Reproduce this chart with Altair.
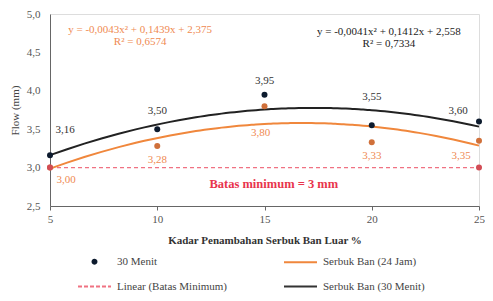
import altair as alt
import pandas as pd

# ---------------- data ----------------
x_vals = [5, 10, 15, 20, 25]
flow_30 = [3.16, 3.50, 3.95, 3.55, 3.60]
flow_24 = [3.00, 3.28, 3.80, 3.33, 3.35]
lbl_30 = ["3,16", "3,50", "3,95", "3,55", "3,60"]
lbl_24 = ["3,00", "3,28", "3,80", "3,33", "3,35"]
batas_x = [5, 25]
batas_y = [3.0, 3.0]
legend_names = ["30 Menit", "Linear (Batas Minimum)", "Serbuk Ban (24 Jam)", "Serbuk Ban (30 Menit)"]
eq_24 = ["y = -0,0043x² + 0,1439x + 2,375", "R² = 0,6574"]
eq_30 = ["y = -0,0041x² + 0,1412x + 2,558", "R² = 0,7334"]
batas_text = "Batas minimum  = 3 mm"
x_ticks = [5, 10, 15, 20, 25]
y_ticks = [2.5, 3.0, 3.5, 4.0, 4.5, 5.0]

# annotation anchors (data units)
ann_24_x, ann_24_y = [9.2, 9.2], [4.79, 4.64]
ann_30_x, ann_30_y = [20.8, 20.8], [4.76, 4.61]
batas_ann_x = [15.2]

# ---------------- styles ----------------
FONT = "Liberation Serif"
NAVY = "#0d1b2e"
BLACK = "#222222"
ORANGE = "#f0873c"
ORANGE_DOT = "#d0703a"
ORANGE_TXT = "#ef8a52"
PINK = "#f07282"
RED_DOT = "#d24c55"
RED_TXT = "#e8344c"

df30 = pd.DataFrame({"x": x_vals, "y": flow_30, "label": lbl_30})
df24 = pd.DataFrame({"x": x_vals, "y": flow_24, "label": lbl_24})
dfb = pd.DataFrame({"x": batas_x, "y": batas_y})
dfl = pd.DataFrame({"x": [x_vals[0]] * 4, "y": [batas_y[0]] * 4, "legend": legend_names})
df_eq24 = pd.DataFrame({"x": ann_24_x, "y": ann_24_y, "label": eq_24})
df_eq30 = pd.DataFrame({"x": ann_30_x, "y": ann_30_y, "label": eq_30})
df_bt = pd.DataFrame({"x": batas_ann_x, "y": [batas_y[0]], "label": [batas_text]})

xenc = alt.X(
    "x:Q",
    scale=alt.Scale(domain=[5, 25], nice=False, zero=False),
    axis=alt.Axis(
        values=x_ticks, title="Kadar Penambahan Serbuk Ban Luar %", grid=False,
        labelFont=FONT, labelFontSize=11, labelColor="#555", labelPadding=3,
        labelOverlap=False, labelFlush=False,
        tickSize=4, tickColor="#666", domainColor="#666",
        titleFont=FONT, titleFontSize=11, titleFontWeight="bold", titleColor="#333",
        titlePadding=10,
    ),
)
yenc = alt.Y(
    "y:Q",
    scale=alt.Scale(domain=[2.5, 5.0], nice=False, zero=False),
    axis=alt.Axis(
        values=y_ticks, title="Flow (mm)", grid=False,
        labelExpr="replace(format(datum.value, '.1f'), '.', ',')",
        labelFont=FONT, labelFontSize=11, labelColor="#555", labelPadding=10,
        labelOverlap=False, labelBound=False,
        ticks=False, domainColor="#666",
        titleFont=FONT, titleFontSize=11, titleFontWeight="normal", titleColor="#444",
        titlePadding=6,
    ),
)

# regression curves (computed by Vega-Lite)
reg24 = alt.Chart(df24).transform_regression("x", "y", method="poly", order=2).mark_line(
    color=ORANGE, strokeWidth=2).encode(x=xenc, y=yenc)
reg30 = alt.Chart(df30).transform_regression("x", "y", method="poly", order=2).mark_line(
    color=BLACK, strokeWidth=2).encode(x=xenc, y=yenc)

batas_line = alt.Chart(dfb).mark_line(color=PINK, strokeWidth=1.3, strokeDash=[4, 3]).encode(x=xenc, y=yenc)

pts24 = alt.Chart(df24).mark_circle(color=ORANGE_DOT, size=36, opacity=1).encode(x=xenc, y=yenc)
pts30 = alt.Chart(df30).mark_circle(color=NAVY, size=36, opacity=1).encode(x=xenc, y=yenc)
ptsb = alt.Chart(dfb).mark_circle(color=RED_DOT, size=36, opacity=1).encode(x=xenc, y=yenc)


def label_layers(df, color, dx0, dy0, overrides):
    layers = []
    keep = [l for l in df["label"] if l not in overrides]
    base = alt.Chart(df).transform_filter(
        alt.FieldOneOfPredicate(field="label", oneOf=keep)
    ).mark_text(font=FONT, fontSize=11, color=color, dx=dx0, dy=dy0, baseline="middle").encode(
        x=xenc, y=yenc, text="label:N")
    layers.append(base)
    for lab, (dx, dy) in overrides.items():
        layers.append(
            alt.Chart(df).transform_filter(alt.datum.label == lab).mark_text(
                font=FONT, fontSize=11, color=color, dx=dx, dy=dy, baseline="middle"
            ).encode(x=xenc, y=yenc, text="label:N")
        )
    return layers


lab30 = label_layers(df30, "#333", 0, -18,
                     {"3,16": (15, -25), "3,95": (0, -14), "3,55": (0, -28), "3,60": (-21, -11)})
lab24 = label_layers(df24, ORANGE_TXT, 0, 14, {"3,00": (16, 12), "3,80": (-4, 27), "3,35": (-18, 15)})

eq_layers = [
    alt.Chart(df_eq24).mark_text(font=FONT, fontSize=11, color=ORANGE_TXT, baseline="middle").encode(
        x=xenc, y=yenc, text="label:N"),
    alt.Chart(df_eq30).mark_text(font=FONT, fontSize=11, color="#222", baseline="middle").encode(
        x=xenc, y=yenc, text="label:N"),
    alt.Chart(df_bt).mark_text(font=FONT, fontSize=12.5, color=RED_TXT, fontWeight="bold",
                               baseline="middle", dx=5, dy=16).encode(
        x=xenc, y=yenc, text="label:N"),
]

# legend built from an invisible layer
circle_path = "M-0.12,0A0.12,0.12 0 1,0 0.12,0A0.12,0.12 0 1,0 -0.12,0Z"
line_path = "M-1,0H1"
leg = alt.Legend(
    title=None, orient="none", legendX=27, legendY=230, columns=2, columnPadding=53,
    rowPadding=1, labelOffset=5, symbolSize=1089, symbolStrokeWidth=2, symbolOpacity=1,
    labelFont=FONT, labelFontSize=11, labelColor="#444", padding=0,
)
legend_layer = alt.Chart(dfl).mark_point(filled=False, fill=NAVY, opacity=0).encode(
    x=xenc, y=yenc,
    color=alt.Color("legend:N", scale=alt.Scale(domain=legend_names, range=[NAVY, PINK, ORANGE, "#333"]), legend=leg),
    shape=alt.Shape("legend:N", scale=alt.Scale(domain=legend_names, range=[circle_path, line_path, line_path, line_path]), legend=leg),
    strokeDash=alt.StrokeDash("legend:N", scale=alt.Scale(domain=legend_names, range=[[1, 0], [4, 2], [1, 0], [1, 0]]), legend=leg),
)

chart = alt.layer(
    legend_layer, batas_line, reg24, reg30, pts24, pts30, ptsb, *lab30, *lab24, *eq_layers
).properties(
    width=429, height=192,
    autosize=alt.AutoSizeParams(type="none"),
    padding={"left": 42, "top": 6, "right": 6, "bottom": 87},
).configure_view(stroke="#888", strokeWidth=1).configure_axis(
    labelOverlap=False
).configure(background="white")

chart.save("out.html", embed_options={"renderer": "svg", "actions": False})
